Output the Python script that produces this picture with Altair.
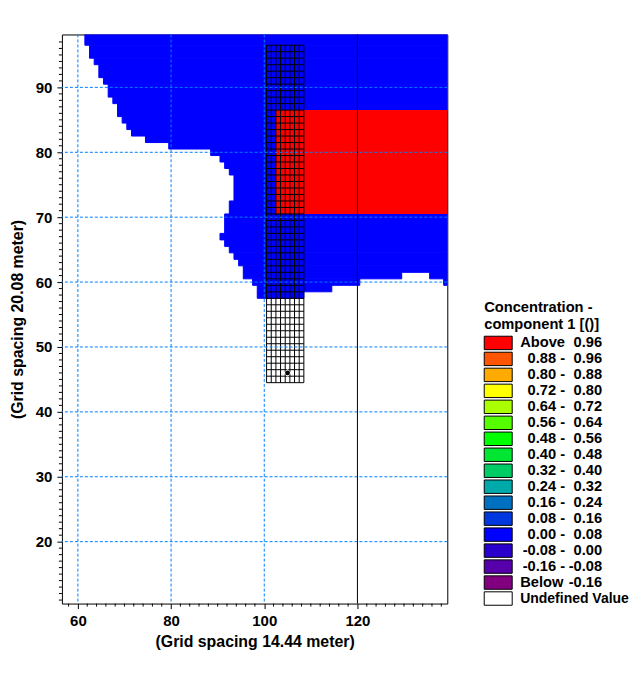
import altair as alt
import pandas as pd

FONT = "Liberation Sans"
X_DOMAIN = [56.571, 139.286]
Y_DOMAIN = [10.4615, 98.1538]

# blue cells, one row band each: top, bottom, left, right
row_top = [98.2,96.5,94.5,93.5,91.5,90.5,88.5,87.5,85.5,84.5,83.5,82.5,81.5,80.5,79.5,78.5,77.5,76.5,72.5,70.5,67.5,66.5,65.5,64.5,63.5,62.5,61.5,61.5,60.5,60.5,59.5,58.5]
row_bot = [96.5,94.5,93.5,91.5,90.5,88.5,87.5,85.5,84.5,83.5,82.5,81.5,80.5,79.5,78.5,77.5,76.5,72.5,70.5,67.5,66.5,65.5,64.5,63.5,62.5,61.5,60.5,60.5,59.5,59.5,58.5,57.5]
row_lft = [61.5,62.5,63.5,64.5,65.5,66.5,67.5,68.5,69.5,70.5,71.5,74.5,79.5,88.5,90.5,91.5,92.5,93.5,92.5,91.5,90.5,91.5,92.5,93.5,94.5,95.5,95.5,135.5,97.5,138.5,98.5,98.5]
row_rgt = [139.3]*26 + [129.5,139.3,120.5,139.3,114.5,108.5]

red_left, red_right, red_top, red_bot = [102.5], [139.3], [86.5], [70.5]

mesh_x = [100.5,101.5,102.5,103.5,104.5,105.5,106.5,107.5,108.5]
mesh_y = [v - 0.5 for v in range(45, 98)]

major_x = [60,80,100,120]
major_y = [20,30,40,50,60,70,80,90]
minor_x = [58,62,64,66,68,70,72,74,76,78,82,84,86,88,90,92,94,96,98,102,104,106,108,110,112,114,116,118,122,124,126,128,130,132,134,136,138]
minor_y = [v for v in range(11, 98) if v % 10 != 0]
well_x, well_y = [105], [46]

legend_title = ["Concentration -", "component 1 [()]"]
legend_left = ["Above","0.88 -","0.80 -","0.72 -","0.64 -","0.56 -","0.48 -","0.40 -","0.32 -","0.24 -","0.16 -","0.08 -","0.00 -","-0.08 -","-0.16 -","Below"]
legend_right = ["0.96","0.96","0.88","0.80","0.72","0.64","0.56","0.48","0.40","0.32","0.24","0.16","0.08","0.00","-0.08","-0.16"]
legend_color = ["#FF0000","#FF5500","#FFAA00","#FFFF00","#AAFF00","#55FF00","#00FF00","#00E633","#00CC66","#00AAAA","#0070C0","#0038E0","#0000FF","#2A00CC","#5500AA","#800080","#FFFFFF"]
legend_undefined = ["Undefined Value"]

xs = alt.Scale(domain=X_DOMAIN, nice=False, zero=False)
ys = alt.Scale(domain=Y_DOMAIN, nice=False, zero=False)
axis_common = dict(format="d", tickSize=5, tickColor="black", domain=False, grid=False,
                   labelFont=FONT, labelFontSize=15, labelFontWeight="bold", labelColor="black",
                   titleFont=FONT, titleFontSize=15.9, titleFontWeight="bold", titleColor="black",
                   labelPadding=5, labelFlush=False, labelOverlap=False)
X = alt.X("x:Q", scale=xs, axis=alt.Axis(values=major_x, title="(Grid spacing 14.44 meter)", titlePadding=5, **axis_common))
Y = alt.Y("y:Q", scale=ys, axis=alt.Axis(values=major_y, title="(Grid spacing 20.08 meter)", titlePadding=10, **axis_common))

blue = pd.DataFrame({"x": row_lft, "x2": row_rgt, "y": row_bot, "y2": row_top})
blue_l = alt.Chart(blue).mark_rect(color="#0000FF", stroke="#0000FF", strokeWidth=1, clip=True).encode(x=X, x2="x2:Q", y=Y, y2="y2:Q")
red = pd.DataFrame({"x": red_left, "x2": red_right, "y": red_bot, "y2": red_top})
red_l = alt.Chart(red).mark_rect(color="#FF0000", clip=True).encode(x=X, x2="x2:Q", y=Y, y2="y2:Q")

mv = pd.DataFrame({"x": mesh_x, "y": [min(mesh_y)]*len(mesh_x), "y2": [max(mesh_y)]*len(mesh_x)})
mesh_v = alt.Chart(mv).mark_rule(color="black", strokeWidth=1).encode(x=X, y=Y, y2="y2:Q")
mh = pd.DataFrame({"y": mesh_y, "x": [min(mesh_x)]*len(mesh_y), "x2": [max(mesh_x)]*len(mesh_y)})
mesh_h = alt.Chart(mh).mark_rule(color="black", strokeWidth=1).encode(y=Y, x=X, x2="x2:Q")

dash = dict(color="#0080FF", strokeWidth=1, strokeDash=[3, 2])
grid_v = alt.Chart(pd.DataFrame({"x": major_x[:3]})).mark_rule(**dash).encode(x=X)
grid_h = alt.Chart(pd.DataFrame({"y": major_y})).mark_rule(**dash).encode(y=Y)
line120 = alt.Chart(pd.DataFrame({"x": [120]})).mark_rule(color="black", strokeWidth=1).encode(x=X)

minor_xl = alt.Chart(pd.DataFrame({"x": minor_x})).mark_rule(color="black", clip=False).encode(x=X, y=alt.value(570), y2=alt.value(573))
minor_yl = alt.Chart(pd.DataFrame({"y": minor_y})).mark_rule(color="black", clip=False).encode(y=Y, x=alt.value(-3), x2=alt.value(0))

well_h = alt.Chart(pd.DataFrame({"x": well_x, "y": well_y})).mark_point(shape="diamond", filled=True, color="white", opacity=1, size=60).encode(x=X, y=Y)
well = alt.Chart(pd.DataFrame({"x": well_x, "y": well_y})).mark_point(shape="circle", filled=True, color="black", opacity=1, size=24).encode(x=X, y=Y)

plot = alt.layer(blue_l, red_l, mesh_v, mesh_h, grid_v, grid_h, line120, minor_xl, minor_yl, well_h, well).properties(width=386, height=570)

# legend panel: horizontal and vertical units are pixels and rows
LW, LH = 158, 570
lx = alt.Scale(domain=[0, LW], nice=False, zero=False)
ly = alt.Scale(domain=[-19.31, 35.625 - 19.31], nice=False, zero=False, reverse=True)
rows = list(range(len(legend_color)))
ld = pd.DataFrame({"row": rows, "col": legend_color})
ld["top"] = ld["row"] - 0.42
ld["bot"] = ld["row"] + 0.42
ld["x0"], ld["x1"] = 14, 42
lt = pd.DataFrame({"row": rows[:-1], "lab": legend_left, "val": legend_right})
lt["tl"] = [50 if s[0].isalpha() else 95 for s in legend_left]
lt["al"] = ["left" if s[0].isalpha() else "right" for s in legend_left]
lt["xv"] = 132
LXT = lambda f: alt.X(f, scale=lx, axis=None)
LYT = alt.Y("row:Q", scale=ly, axis=None)
sw = alt.Chart(ld).mark_rect(stroke="black", strokeWidth=1).encode(x=alt.X("x0:Q", scale=lx, axis=None), x2="x1:Q", y=alt.Y("top:Q", scale=ly, axis=None), y2="bot:Q", color=alt.Color("col:N", scale=None))
txt = dict(font=FONT, fontSize=14.7, fontWeight="bold", color="black", baseline="middle")
t_left = alt.Chart(lt[lt.al == "left"]).mark_text(align="left", **txt).encode(x=LXT("tl:Q"), y=LYT, text="lab:N")
t_right = alt.Chart(lt[lt.al == "right"]).mark_text(align="right", **txt).encode(x=LXT("tl:Q"), y=LYT, text="lab:N")
t_val = alt.Chart(lt).mark_text(align="right", **txt).encode(x=LXT("xv:Q"), y=LYT, text="val:N")
tt = pd.DataFrame({"t": legend_title, "row": [-2.2, -1.15], "x": [14, 14]})
t_title = alt.Chart(tt).mark_text(align="left", **txt).encode(x=LXT("x:Q"), y=LYT, text="t:N")
tu = pd.DataFrame({"t": legend_undefined, "row": [rows[-1]], "x": [50]})
t_undef = alt.Chart(tu).mark_text(align="left", font=FONT, fontSize=14, fontWeight="bold", color="black", baseline="middle").encode(x=LXT("x:Q"), y=LYT, text="t:N")
legend = alt.layer(sw, t_left, t_right, t_val, t_title, t_undef).properties(width=LW, height=LH, view=alt.ViewConfig(stroke=None))

chart = alt.hconcat(plot, legend, spacing=22).properties(
    padding={"left": 0, "top": 25, "right": 0, "bottom": 0}, background="white"
).configure_view(stroke="black", strokeWidth=1).configure_concat(spacing=22)

chart.save("out.html", embed_options={"renderer": "svg", "actions": False})
